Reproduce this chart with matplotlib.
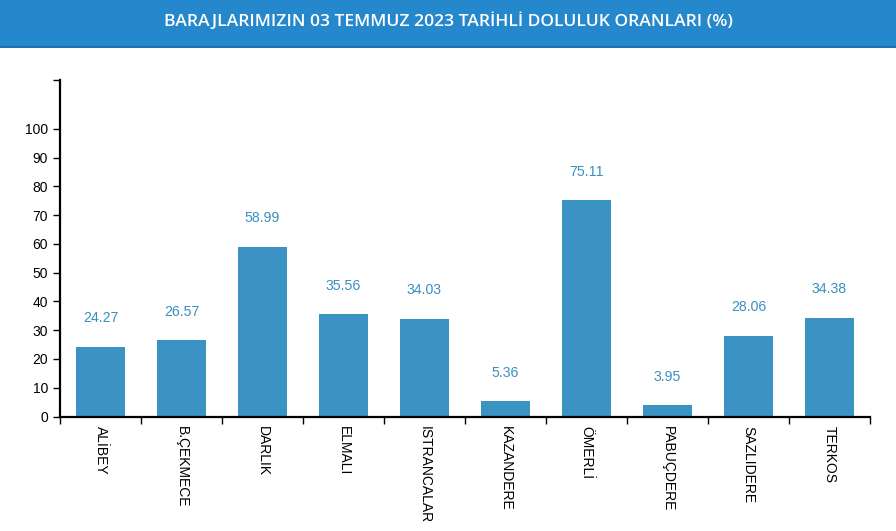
import matplotlib.pyplot as plt
import matplotlib.patches as mpatches
import numpy as np

plt.rcParams['font.family'] = ['Liberation Sans', 'DejaVu Sans']

# ========================= data =========================
dams = ['ALİBEY', 'B.ÇEKMECE', 'DARLIK', 'ELMALI', 'ISTRANCALAR',
        'KAZANDERE', 'ÖMERLİ', 'PABUÇDERE', 'SAZLIDERE', 'TERKOS']
fill_rate = [24.27, 26.57, 58.99, 35.56, 34.03, 5.36, 75.11, 3.95, 28.06, 34.38]
y_ticks = list(range(0, 101, 10))
title = 'BARAJLARIMIZIN 03 TEMMUZ 2023 TARİHLİ DOLULUK ORANLARI (%)'

bar_color = '#3b93c3'
text_color = '#3a8fc0'
W, H = 896, 531

fig = plt.figure(figsize=(W / 100, H / 100), dpi=100)

# ========================= banner =========================
band_h = 48 / H
fig.patches.append(mpatches.Rectangle((0, 1 - band_h), 1, band_h, transform=fig.transFigure,
                                      facecolor='#2587cc', edgecolor='none', zorder=0))
fig.patches.append(mpatches.Rectangle((0, 1 - band_h), 1, 2 / H, transform=fig.transFigure,
                                      facecolor='#1e72b0', edgecolor='none', zorder=1))
fig.text(0.5, 1 - 21 / H, title, color='white', fontsize=12.6, ha='center', va='center',
         family=['Open Sans', 'DejaVu Sans'], fontweight='semibold')

# ========================= axes =========================
ax = fig.add_axes([60 / W, 1 - 416.5 / H, 810 / W, 336 / H])
x = np.arange(len(dams)) + 0.5
ymax = 336 / 2.877
ax.bar(x, fill_rate, width=0.6, color=bar_color, zorder=2)
for xi, v in zip(x, fill_rate):
    ax.annotate('%.2f' % v, (xi, v), xytext=(0, 20.5), textcoords='offset points',
                ha='center', va='center', color=text_color, fontsize=10.2)

ax.set_xlim(0, len(dams))
ax.set_ylim(0, ymax)

ax.set_yticks(y_ticks + [ymax], labels=[str(t) for t in y_ticks] + [''])
ax.tick_params(axis='y', length=5, width=1, pad=3.5, labelsize=10)

ax.set_xticks(np.arange(len(dams) + 1), labels=[''] * (len(dams) + 1))
ax.tick_params(axis='x', which='major', length=5, width=1)
ax.set_xticks(x, labels=dams, minor=True)
ax.tick_params(axis='x', which='minor', length=0, pad=7, labelsize=10, labelrotation=270)
for lbl in ax.get_xticklabels(minor=True):
    lbl.set_va('top')
    lbl.set_ha('center')

for s in ['top', 'right']:
    ax.spines[s].set_visible(False)
for s in ['left', 'bottom']:
    ax.spines[s].set_linewidth(1.6)

fig.savefig('out.png', dpi=100)
